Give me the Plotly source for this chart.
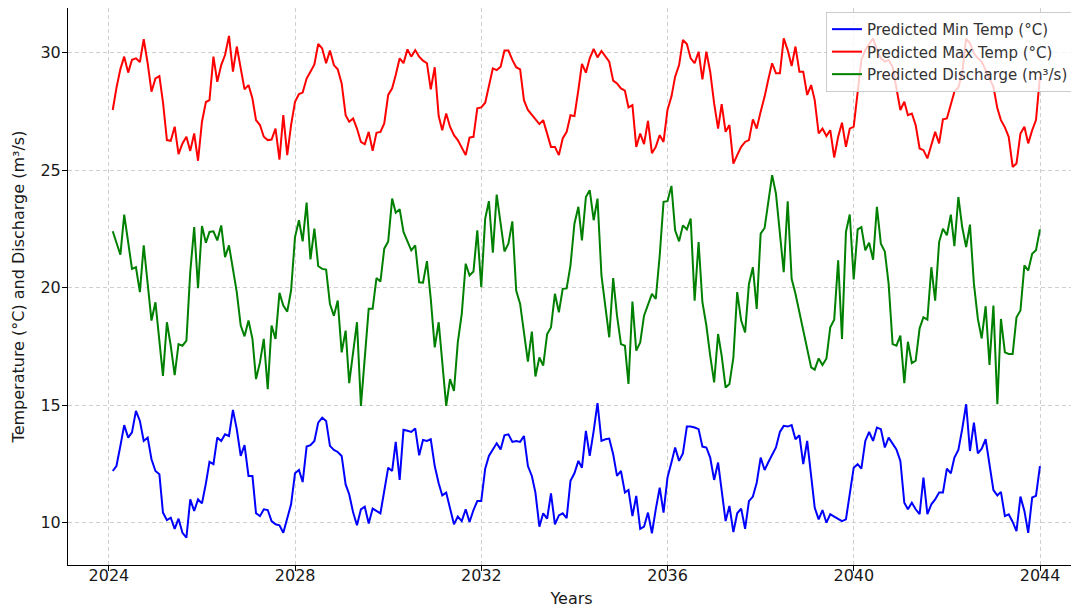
import pandas as pd
import plotly.graph_objects as go

# Monthly predictions, Jan 2024 - Dec 2043 (month-end dates)
dates = pd.date_range("2024-01-31", periods=240, freq="ME")

min_temp = [
    12.2, 12.41, 13.27, 14.15, 13.62, 13.84, 14.76, 14.33, 13.48, 13.62,
    12.7, 12.2, 12.06, 10.43, 10.11, 10.21, 9.74, 10.17, 9.57, 9.36,
    10.99, 10.5, 10.99, 10.82, 11.68, 12.59, 12.49, 13.62, 13.48, 13.76,
    13.69, 14.8, 13.98, 12.84, 13.3, 11.99, 11.99, 10.4, 10.28, 10.57,
    10.54, 10.07, 9.93, 9.89, 9.57, 10.14, 10.78, 12.1, 12.24, 11.73,
    13.24, 13.3, 13.48, 14.26, 14.47, 14.33, 13.27, 13.1, 13.01, 12.84,
    11.63, 11.21, 10.43, 9.89, 10.57, 10.68, 9.97, 10.6, 10.5, 10.4,
    11.35, 12.34, 12.2, 13.44, 11.82, 13.95, 13.91, 13.86, 14.01, 12.87,
    13.52, 13.48, 13.55, 12.41, 11.68, 11.16, 11.28, 10.6, 9.93, 10.26,
    10.07, 10.57, 10.03, 10.54, 10.92, 10.92, 12.3, 12.84, 13.12, 13.38,
    13.12, 13.72, 13.76, 13.44, 13.48, 13.44, 13.69, 12.41, 11.99, 11.28,
    9.83, 10.4, 10.17, 11.25, 9.93, 10.31, 10.4, 10.19, 11.78, 12.1,
    12.63, 12.34, 13.91, 12.84, 13.91, 15.09, 13.48, 13.55, 13.58, 12.91,
    11.99, 12.2, 11.28, 11.39, 10.28, 11.14, 9.74, 9.83, 10.43, 9.55,
    10.57, 11.49, 10.43, 11.92, 12.56, 13.2, 12.63, 12.95, 14.09, 14.09,
    14.05, 13.98, 13.24, 13.2, 12.77, 11.82, 12.56, 11.39, 10.07, 10.71,
    9.6, 10.4, 10.6, 9.74, 10.92, 11.11, 11.7, 12.77, 12.24, 12.56,
    12.87, 13.2, 13.86, 14.12, 14.09, 14.15, 13.55, 13.72, 12.49, 13.48,
    11.99, 10.64, 10.14, 10.54, 10.0, 10.36, 10.26, 10.17, 10.07, 10.14,
    11.28, 12.34, 12.49, 12.3, 13.48, 13.86, 13.48, 14.05, 13.98, 13.2,
    13.62, 13.34, 13.12, 12.63, 10.85, 10.57, 10.85, 10.57, 10.36, 11.92,
    10.36, 10.78, 10.99, 11.28, 11.28, 12.3, 12.1, 12.77, 13.1, 13.98,
    15.04, 13.05, 14.26, 12.95, 13.15, 13.55, 12.49, 11.39, 11.16, 11.31,
    10.28, 10.36, 10.03, 9.64, 11.11, 10.5, 9.57, 11.07, 11.14, 12.41,
]

max_temp = [
    27.56, 28.5, 29.3, 29.83, 29.15, 29.7, 29.76, 29.6, 30.57, 29.55,
    28.34, 28.9, 29.0, 27.9, 26.28, 26.25, 26.85, 25.68, 26.14, 26.42,
    25.82, 26.56, 25.4, 27.06, 27.9, 27.98, 29.83, 28.76, 29.47, 29.9,
    30.71, 29.19, 30.26, 29.4, 28.44, 28.62, 28.05, 27.13, 26.92, 26.42,
    26.28, 26.3, 26.77, 25.45, 27.34, 25.64, 26.92, 27.91, 28.24, 28.3,
    28.9, 29.19, 29.5, 30.37, 30.18, 29.55, 30.09, 29.47, 29.29, 28.69,
    27.34, 27.06, 27.2, 26.77, 26.2, 26.1, 26.63, 25.82, 26.59, 26.63,
    26.99, 28.2, 28.48, 29.05, 29.76, 29.55, 30.14, 29.83, 30.11, 29.83,
    29.66, 29.55, 28.44, 29.38, 27.3, 26.7, 27.41, 26.85, 26.49, 26.28,
    25.99, 25.64, 26.39, 26.42, 27.63, 27.67, 27.87, 28.62, 29.33, 29.26,
    29.4, 30.09, 30.09, 29.69, 29.38, 29.29, 27.98, 27.56, 27.34, 27.13,
    26.96, 27.13, 26.49, 25.99, 25.99, 25.64, 26.35, 26.63, 27.34, 27.3,
    28.41, 29.52, 29.15, 29.76, 30.16, 29.8, 30.07, 29.86, 29.62, 28.81,
    28.69, 28.48, 28.38, 27.67, 27.77, 25.99, 26.56, 26.11, 27.1, 25.72,
    25.99, 26.49, 26.2, 27.56, 28.13, 28.98, 29.47, 30.54, 30.37, 29.76,
    29.55, 30.04, 28.86, 30.04, 29.19, 27.84, 26.77, 27.81, 26.63, 26.92,
    25.28, 25.64, 25.99, 26.2, 26.28, 27.16, 26.77, 27.49, 28.13, 28.84,
    29.55, 29.12, 29.12, 30.61, 30.11, 29.43, 30.26, 29.19, 29.19, 28.2,
    28.62, 27.98, 26.56, 26.77, 26.45, 26.7, 25.54, 26.42, 27.02, 25.99,
    26.77, 26.85, 28.27, 29.69, 30.11, 30.33, 30.61, 30.11, 29.76, 29.62,
    29.69, 29.4, 28.41, 27.56, 27.91, 27.34, 27.41, 26.92, 25.92, 25.85,
    25.5, 26.07, 26.63, 26.14, 27.16, 27.2, 27.77, 28.34, 28.52, 29.12,
    30.6, 30.4, 29.97, 29.76, 29.62, 29.26, 28.98, 28.55, 27.63, 27.13,
    26.82, 26.42, 25.14, 25.28, 26.56, 26.85, 26.14, 26.7, 27.13, 28.98,
]

discharge = [
    22.4, 21.87, 21.4, 23.11, 21.94, 20.8, 20.87, 19.81, 21.8, 20.23,
    18.6, 19.38, 17.82, 16.25, 18.53, 17.53, 16.28, 17.6, 17.53, 17.75,
    20.66, 22.58, 19.98, 22.62, 21.91, 22.37, 22.4, 22.01, 22.65, 21.3,
    21.8, 20.8, 19.81, 18.39, 17.93, 18.6, 17.82, 16.11, 16.82, 17.82,
    15.68, 18.39, 17.82, 19.78, 19.24, 18.98, 19.88, 22.16, 22.87, 21.97,
    23.62, 21.2, 22.51, 20.92, 20.8, 20.77, 19.3, 18.8, 19.45, 17.25,
    18.17, 15.94, 17.32, 18.53, 14.97, 17.18, 19.1, 19.1, 20.41, 20.26,
    21.66, 21.97, 23.79, 23.19, 23.34, 22.37, 22.01, 21.59, 21.8, 20.23,
    20.21, 21.13, 19.52, 17.46, 18.53, 16.68, 14.97, 16.11, 15.61, 17.67,
    18.88, 21.02, 20.52, 20.69, 22.44, 20.02, 22.94, 23.68, 21.49, 23.96,
    22.77, 21.54, 21.87, 22.82, 19.88, 19.31, 18.1, 16.85, 18.13, 16.22,
    17.03, 16.68, 18.03, 18.31, 19.74, 18.95, 19.95, 19.97, 20.95, 22.72,
    23.44, 22.01, 23.86, 24.15, 22.87, 23.79, 20.52, 19.1, 17.89, 20.41,
    18.81, 17.6, 17.53, 15.9, 19.41, 17.32, 17.67, 18.81, 19.24, 19.74,
    19.52, 21.37, 23.65, 23.68, 24.33, 22.44, 21.97, 22.65, 22.48, 22.94,
    19.45, 21.94, 19.38, 18.39, 17.11, 15.97, 18.03, 17.11, 15.75, 15.9,
    17.03, 19.81, 18.6, 18.1, 20.16, 20.87, 19.1, 22.3, 22.54, 23.72,
    24.79, 24.0, 22.37, 20.66, 23.68, 20.38, 19.74, 18.95, 18.31, 17.4,
    16.61, 16.51, 16.99, 16.71, 16.99, 18.31, 18.64, 21.16, 17.82, 22.37,
    23.11, 20.35, 22.48, 22.58, 21.59, 21.91, 21.19, 23.44, 21.87, 21.54,
    20.16, 17.6, 17.53, 17.96, 15.94, 17.7, 16.79, 16.89, 18.27, 18.74,
    18.64, 20.87, 19.45, 21.94, 22.51, 22.23, 23.11, 21.77, 23.86, 22.58,
    21.73, 22.68, 20.16, 18.67, 17.84, 19.21, 16.71, 19.24, 15.04, 18.67,
    17.25, 17.18, 17.18, 18.74, 19.03, 20.95, 20.73, 21.44, 21.59, 22.48,
]

series = [
    ("Predicted Min Temp (°C)", min_temp, "#0000ff"),
    ("Predicted Max Temp (°C)", max_temp, "#ff0000"),
    ("Predicted Discharge (m³/s)", discharge, "#008000"),
]

fig = go.Figure()
for name, vals, color in series:
    fig.add_trace(go.Scatter(x=dates, y=vals, mode="lines", name=name,
                             line=dict(color=color, width=2)))

axis_common = dict(
    automargin=False,
    showgrid=True, gridcolor="#cfcfcf", griddash="4px,3px", gridwidth=1,
    showline=True, linecolor="#000000", linewidth=1, mirror=True,
    ticks="outside", ticklen=5, tickcolor="#000000",
    tickfont=dict(family="DejaVu Sans", size=16, color="#1a1a1a"),
    zeroline=False,
)

# page body adds an 8px offset, so the figure is sized to fill the 1079x609 window
fig.update_layout(
    width=1071, height=601,
    margin=dict(l=60, r=4, t=0, b=44),
    paper_bgcolor="white", plot_bgcolor="white",
    font=dict(family="DejaVu Sans", color="#1a1a1a"),
    showlegend=True,
    legend=dict(x=0.999, y=0.993, xanchor="right", yanchor="top",
                itemwidth=30, tracegroupgap=0,
                bgcolor="rgba(255,255,255,0.8)", bordercolor="#cccccc",
                borderwidth=1, font=dict(family="DejaVu Sans", size=15, color="#333333")),
    xaxis=dict(type="date", range=["2023-02-14", "2044-10-01"],
               tick0="2024-01-01", dtick="M48", tickformat="%Y",
               ticklabelstandoff=-9,
               title=dict(text="Years", font=dict(size=16), standoff=8),
               **axis_common),
    yaxis=dict(range=[8.2, 31.9], tickvals=[10, 15, 20, 25, 30],
               ticklabelstandoff=-2,
               title=dict(text="Temperature (°C) and Discharge (m³/s)", font=dict(size=16), standoff=11),
               **axis_common),
)

fig.write_html("out.html")
